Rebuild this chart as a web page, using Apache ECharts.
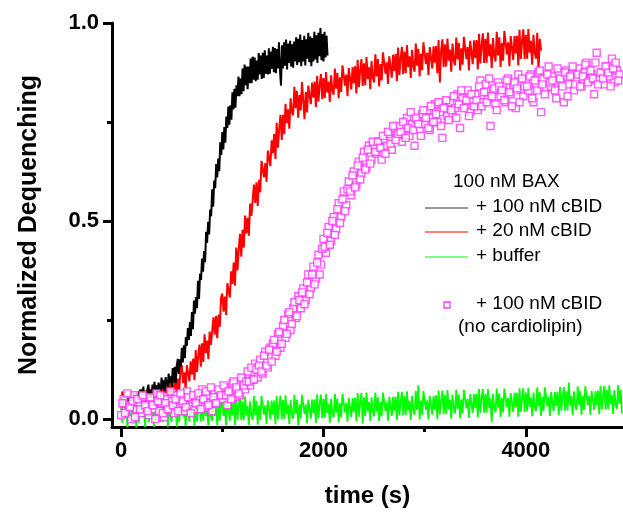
<!DOCTYPE html>
<html>
<head>
<meta charset="utf-8">
<script src="https://cdn.jsdelivr.net/npm/echarts@6/dist/echarts.min.js"></script>
<style>
html,body{margin:0;padding:0;background:#fff;}
#chart{width:623px;height:513px;}
</style>
</head>
<body>
<div id="chart"></div>
<script>
// ---- data ----
const xTicksMajor = [0, 2000, 4000];
const xTicksMinor = [1000, 3000];
const yTicksMajor = [0, 0.5, 1.0];
const yTicksMinor = [0.25, 0.75];

// black: 100 nM BAX + 100 nM cBID, sampled every 10 s from 0 s
const blackStart = 0, blackStep = 10;
const blackValues = [
  0.04,0.017,0.053,0.03,0.041,0.018,0.054,0.041,0.032,0.064,
  0.03,0.052,0.043,0.064,0.03,0.062,0.053,0.045,0.071,0.043,
  0.075,0.051,0.082,0.048,0.069,0.045,0.076,0.087,0.058,0.074,
  0.055,0.087,0.068,0.094,0.056,0.085,0.066,0.092,0.078,0.068,
  0.105,0.077,0.098,0.07,0.106,0.092,0.079,0.115,0.091,0.108,
  0.08,0.129,0.093,0.132,0.091,0.135,0.152,0.114,0.151,0.133,
  0.18,0.143,0.186,0.154,0.207,0.185,0.23,0.2,0.245,0.21,
  0.27,0.227,0.299,0.266,0.308,0.28,0.349,0.303,0.367,0.351,
  0.405,0.372,0.424,0.396,0.473,0.445,0.498,0.466,0.529,0.512,
  0.58,0.536,0.602,0.583,0.644,0.61,0.658,0.626,0.699,0.667,
  0.725,0.681,0.737,0.698,0.764,0.735,0.789,0.743,0.792,0.756,
  0.825,0.782,0.834,0.786,0.843,0.815,0.865,0.815,0.86,0.82,
  0.885,0.828,0.895,0.843,0.89,0.833,0.89,0.848,0.91,0.848,
  0.915,0.857,0.913,0.853,0.905,0.857,0.924,0.87,0.918,0.859,
  0.925,0.861,0.931,0.872,0.918,0.87,0.936,0.872,0.928,0.884,
  0.94,0.876,0.937,0.873,0.934,0.885,0.951,0.882,0.842,0.944,
  0.885,0.951,0.892,0.958,0.883,0.948,0.899,0.955,0.89,0.946,
  0.887,0.953,0.903,0.964,0.894,0.96,0.901,0.971,0.891,0.957,
  0.903,0.968,0.893,0.959,0.91,0.975,0.901,0.966,0.891,0.962,
  0.903,0.978,0.908,0.969,0.899,0.975,0.916,0.987,0.906,0.972,
  0.903,0.978,0.913,0.968,0.918
];

// red: + 20 nM cBID, sampled every 12.5 s from 0 s
const redStart = 0, redStep = 12.5;
const redValues = [
  0.044,0.07,0.054,0.028,0.043,0.017,0.054,0.035,
  0.031,0.067,0.041,0.063,0.029,0.058,0.039,0.075,
  0.076,0.049,0.064,0.037,0.073,0.06,0.047,0.076,
  0.056,0.078,0.044,0.087,0.052,0.073,0.089,0.055,
  0.084,0.057,0.093,0.066,0.081,0.055,0.091,0.071,
  0.06,0.112,0.075,0.107,0.06,0.102,0.075,0.127,
  0.136,0.091,0.118,0.073,0.136,0.115,0.095,0.146,
  0.113,0.153,0.098,0.174,0.119,0.159,0.188,0.132,
  0.191,0.144,0.214,0.167,0.198,0.151,0.221,0.187,
  0.184,0.257,0.213,0.26,0.204,0.264,0.233,0.306,
  0.317,0.271,0.309,0.263,0.343,0.325,0.307,0.373,
  0.341,0.395,0.337,0.433,0.375,0.429,0.468,0.41,
  0.478,0.433,0.514,0.469,0.508,0.463,0.544,0.513,
  0.512,0.592,0.546,0.598,0.538,0.604,0.572,0.652,
  0.657,0.61,0.646,0.599,0.678,0.658,0.639,0.704,
  0.671,0.72,0.657,0.748,0.685,0.733,0.768,0.705,
  0.768,0.719,0.796,0.747,0.782,0.733,0.81,0.775,
  0.767,0.839,0.785,0.829,0.761,0.819,0.779,0.851,
  0.849,0.757,0.826,0.774,0.842,0.818,0.795,0.849,
  0.812,0.852,0.788,0.866,0.802,0.843,0.871,0.808,
  0.861,0.81,0.876,0.825,0.852,0.801,0.868,0.83,
  0.819,0.885,0.834,0.874,0.81,0.863,0.826,0.893,
  0.897,0.842,0.87,0.815,0.886,0.859,0.832,0.889,
  0.848,0.891,0.822,0.907,0.838,0.88,0.909,0.841,
  0.898,0.843,0.914,0.859,0.888,0.833,0.904,0.863,
  0.85,0.921,0.865,0.909,0.84,0.896,0.855,0.926,
  0.927,0.872,0.901,0.846,0.916,0.889,0.862,0.92,
  0.879,0.922,0.853,0.938,0.868,0.91,0.94,0.871,
  0.928,0.873,0.944,0.889,0.916,0.861,0.932,0.891,
  0.877,0.948,0.892,0.935,0.865,0.922,0.881,0.951,
  0.952,0.896,0.925,0.868,0.939,0.912,0.885,0.941,
  0.9,0.942,0.873,0.957,0.85,0.93,0.959,0.889,
  0.946,0.89,0.961,0.905,0.933,0.877,0.948,0.906,
  0.893,0.963,0.908,0.95,0.88,0.936,0.895,0.965,
  0.969,0.909,0.94,0.88,0.955,0.925,0.896,0.956,
  0.912,0.957,0.883,0.973,0.898,0.943,0.974,0.899,
  0.96,0.9,0.976,0.916,0.946,0.886,0.962,0.917,
  0.903,0.978,0.918,0.964,0.889,0.95,0.905,0.98,
  0.981,0.921,0.951,0.891,0.967,0.937,0.907,0.967,
  0.923,0.968,0.893,0.983,0.909,0.954,0.984,0.909,
  0.97,0.91,0.985,0.925,0.955,0.895,0.97,0.925,
  0.91,0.975,0.88,0.96,0.93
];

// green: + buffer, sampled every 12.5 s from 0 s
const greenStart = 0, greenStep = 12.5;
const greenValues = [
  0.039,-0.009,0.051,0.003,0.027,-0.021,0.039,0.003,
  -0.009,0.051,0.003,0.039,-0.021,0.027,-0.009,0.051,
  0.052,0.004,0.028,-0.02,0.04,0.016,-0.008,0.04,
  0.004,0.04,-0.02,0.052,-0.008,0.028,0.052,-0.008,
  0.041,-0.007,0.053,0.005,0.029,-0.019,0.041,0.005,
  -0.007,0.053,0.005,0.041,-0.019,0.029,-0.007,0.053,
  0.054,0.006,0.03,-0.018,0.042,0.018,-0.006,0.042,
  0.006,0.042,-0.018,0.054,-0.006,0.03,0.054,-0.006,
  0.043,-0.005,0.055,0.007,0.031,-0.017,0.043,0.007,
  -0.004,0.056,0.008,0.044,-0.016,0.032,-0.004,0.056,
  0.056,0.008,0.032,-0.016,0.044,0.02,-0.004,0.044,
  0.009,0.045,-0.015,0.057,-0.003,0.033,0.057,-0.003,
  0.045,-0.003,0.057,0.009,0.033,-0.015,0.045,0.009,
  -0.002,0.058,0.01,0.046,-0.014,0.034,-0.002,0.058,
  0.059,0.011,0.035,-0.013,0.047,0.023,-0.001,0.047,
  0.011,0.047,-0.013,0.059,-0.001,0.035,0.059,-0.001,
  0.048,0,0.06,0.012,0.036,-0.012,0.048,0.012,
  0.001,0.061,0.013,0.049,-0.016,0.037,0.001,0.061,
  0.061,0.013,0.037,-0.011,0.049,0.025,0.001,0.049,
  0.014,0.05,-0.01,0.062,0.002,0.038,0.062,0.002,
  0.051,0.003,0.063,0.015,0.039,-0.009,0.051,0.015,
  0.004,0.064,0.016,0.052,-0.008,0.04,0.004,0.064,
  0.065,0.017,0.041,-0.007,0.053,0.029,0.005,0.053,
  0.018,0.054,-0.006,0.066,0.006,0.042,0.066,-0.012,
  0.055,0.007,0.067,0.019,0.043,-0.005,0.055,0.019,
  0.007,0.067,0.019,0.055,-0.005,0.043,0.007,0.067,
  0.068,0.02,0.044,-0.004,0.056,0.032,0.008,0.056,
  0.021,0.057,-0.003,0.069,0.009,0.045,0.069,0.009,
  0.058,0.01,0.07,0.022,0.046,-0.002,0.058,0.022,
  0.011,0.071,0.023,0.085,-0.001,0.047,0.011,0.071,
  0.071,0.023,0.047,-0.001,0.059,0.035,0.011,0.059,
  0.024,0.06,0,0.072,0.012,0.048,0.072,0.012,
  0.061,0.013,0.073,0.025,0.049,0.001,0.061,0.025,
  0.014,0.074,0.026,0.062,0.002,0.05,0.014,0.074,
  0.075,0.027,0.051,0.003,0.063,0.039,0.015,0.063,
  0.028,0.064,0.004,0.076,0.016,0.052,0.076,0.016,
  0.064,0.016,0.076,0.028,0.052,-0.008,0.064,0.028,
  0.017,0.077,0.029,0.065,0.005,0.053,0.017,0.077,
  0.078,0.03,0.054,0.006,0.066,0.042,0.018,0.066,
  0.03,0.066,0.006,0.078,0.018,0.054,0.078,0.018,
  0.067,0.019,0.079,0.031,0.055,0.007,0.067,0.031,
  0.02,0.08,0.032,0.068,0.008,0.056,0.02,0.08,
  0.08,0.032,0.056,0.008,0.068,0.044,0.02,0.068,
  0.033,0.069,0.009,0.081,0.021,0.057,0.081,0.021,
  0.07,0.022,0.092,0.034,0.058,0.01,0.07,0.034,
  0.023,0.083,0.035,0.071,0.011,0.059,0.023,0.083,
  0.083,0.035,0.059,0.011,0.071,0.047,0.023,0.071,
  0.036,0.072,0.012,0.084,0.024,0.06,0.084,0.024,
  0.073,0.025,0.085,0.037,0.061,0.013,0.073,0.037,
  0.026,0.086,0.038,0.074,0.014
];

// magenta squares: + 100 nM cBID (no cardiolipin)
// set A every 25 s from 0 s, set B every 25 s from 12.5 s
const magStartA = 0, magStepA = 25;
const magValuesA = [
  0.01,0.05,0.02,0.035,0.0,0.06,0.025,0.04,0.015,0.055,
  0.03,0.01,0.045,0.025,0.065,0.02,0.04,0.005,0.05,0.03,
  0.045,0.015,0.06,0.03,0.04,0.02,0.07,0.035,0.05,0.025,
  0.055,0.035,0.075,0.03,0.06,0.04,0.02,0.065,0.045,0.07,
  0.05,0.08,0.035,0.065,0.09,0.055,0.075,0.06,0.1,0.075,
  0.12,0.085,0.1,0.14,0.105,0.15,0.115,0.17,0.13,0.18,
  0.19,0.16,0.215,0.18,0.235,0.205,0.265,0.225,0.28,0.255,
  0.31,0.28,0.33,0.3,0.365,0.33,0.385,0.355,0.415,0.39,
  0.455,0.42,0.485,0.45,0.51,0.48,0.545,0.51,0.575,0.54,
  0.6,0.565,0.625,0.59,0.65,0.62,0.675,0.635,0.69,0.655,
  0.69,0.67,0.7,0.655,0.705,0.69,0.72,0.68,0.735,0.71,
  0.74,0.7,0.725,0.76,0.715,0.745,0.69,0.755,0.73,0.77,
  0.745,0.78,0.73,0.76,0.795,0.75,0.775,0.71,0.79,0.765,
  0.8,0.77,0.785,0.82,0.735,0.81,0.79,0.83,0.775,0.805,
  0.82,0.78,0.855,0.8,0.845,0.81,0.74,0.83,0.795,0.85,
  0.815,0.84,0.8,0.86,0.82,0.845,0.785,0.87,0.83,0.815,
  0.855,0.83,0.87,0.8,0.845,0.875,0.775,0.86,0.835,0.89,
  0.84,0.865,0.81,0.875,0.85,0.8,0.88,0.845,0.87,0.83,
  0.86,0.885,0.84,0.875,0.9,0.855,0.87,0.82,0.925,0.86,
  0.875,0.845,0.89,0.865,0.91,0.85,0.88,0.87
];
const magStartB = 12.5, magStepB = 25;
const magValuesB = [
  0.04,0.015,0.065,0.03,0.045,0.005,0.05,0.025,0.06,0.035,
  0.02,0.055,0.035,0.0,0.045,0.06,0.015,0.04,0.025,0.07,
  0.035,0.05,0.02,0.065,0.045,0.03,0.055,0.015,0.06,0.04,
  0.065,0.025,0.05,0.07,0.035,0.08,0.055,0.04,0.075,0.06,
  0.085,0.06,0.07,0.05,0.095,0.08,0.065,0.105,0.085,0.095,
  0.095,0.13,0.1,0.125,0.135,0.12,0.16,0.135,0.175,0.145,
  0.2,0.17,0.22,0.19,0.25,0.215,0.27,0.24,0.295,0.26,
  0.3,0.32,0.29,0.345,0.315,0.365,0.34,0.395,0.365,0.43,
  0.435,0.47,0.44,0.5,0.465,0.53,0.495,0.555,0.525,0.58,
  0.575,0.615,0.585,0.64,0.605,0.66,0.63,0.68,0.645,0.7,
  0.675,0.7,0.685,0.715,0.67,0.725,0.695,0.74,0.705,0.72,
  0.725,0.75,0.71,0.735,0.775,0.73,0.76,0.745,0.715,0.78,
  0.76,0.735,0.79,0.75,0.77,0.8,0.74,0.785,0.805,0.755,
  0.78,0.815,0.76,0.795,0.83,0.785,0.805,0.765,0.82,0.79,
  0.805,0.84,0.79,0.825,0.8,0.86,0.815,0.835,0.78,0.84,
  0.83,0.805,0.855,0.825,0.79,0.85,0.835,0.8,0.86,0.84,
  0.84,0.865,0.81,0.855,0.83,0.88,0.845,0.82,0.87,0.85,
  0.855,0.83,0.885,0.86,0.84,0.875,0.815,0.865,0.89,0.845,
  0.87,0.84,0.865,0.895,0.85,0.88,0.86,0.9,0.845,0.875,
  0.86,0.89,0.875,0.84,0.885,0.9,0.855
];

function toPairs(start, step, vals){
  return vals.map((v,i)=>[start + i*step, v]);
}

const FONT = "'Liberation Sans', Arial, sans-serif";
const chart = echarts.init(document.getElementById('chart'), null, {renderer:'canvas'});

const axisLineStyle = {color:'#000', width:3};
const magData = toPairs(magStartA, magStepA, magValuesA)
  .concat(toPairs(magStartB, magStepB, magValuesB));

const option = {
  animation:false,
  backgroundColor:'#fff',
  grid:{left:112, right:0, top:23, bottom:83, containLabel:false},
  xAxis:[
    {type:'value', min:-90, max:4960, position:'bottom',
     name:'time (s)', nameLocation:'middle', nameGap:57,
     nameTextStyle:{fontFamily:FONT, fontSize:24, fontWeight:'bold', color:'#000'},
     axisLine:{show:true, onZero:false, lineStyle:axisLineStyle},
     axisTick:{show:true, length:10, customValues:xTicksMajor, lineStyle:{color:'#000', width:3}},
     axisLabel:{show:true, customValues:xTicksMajor, margin:13, formatter:(v)=>String(v),
       fontFamily:FONT, fontSize:22, fontWeight:'bold', color:'#000'},
     splitLine:{show:false}},
    {type:'value', min:-90, max:4960, position:'bottom',
     axisLine:{show:false, onZero:false},
     axisTick:{show:true, length:5, customValues:xTicksMinor, lineStyle:{color:'#000', width:3}},
     axisLabel:{show:false}, splitLine:{show:false}}
  ],
  yAxis:[
    {type:'value', min:-0.02, max:1.0, position:'left',
     name:'Normalized Dequenching', nameLocation:'middle', nameGap:70, nameRotate:90,
     nameTextStyle:{fontFamily:FONT, fontSize:25, fontWeight:'bold', color:'#000'},
     axisLine:{show:true, onZero:false, lineStyle:axisLineStyle},
     axisTick:{show:true, length:9, customValues:yTicksMajor, lineStyle:{color:'#000', width:3}},
     axisLabel:{show:true, customValues:yTicksMajor, margin:13, formatter:(v)=>v.toFixed(1),
       fontFamily:FONT, fontSize:22, fontWeight:'bold', color:'#000'},
     splitLine:{show:false}},
    {type:'value', min:-0.02, max:1.0, position:'left',
     axisLine:{show:false, onZero:false},
     axisTick:{show:true, length:5, customValues:yTicksMinor, lineStyle:{color:'#000', width:3}},
     axisLabel:{show:false}, splitLine:{show:false}}
  ],
  series:[
    {name:'+ 20 nM cBID', type:'line', data:toPairs(redStart, redStep, redValues),
     showSymbol:false, sampling:'none', lineStyle:{color:'#ff0000', width:2}, z:2},
    {name:'+ 100 nM cBID', type:'line', data:toPairs(blackStart, blackStep, blackValues),
     showSymbol:false, sampling:'none', lineStyle:{color:'#000', width:2}, z:3},
    {name:'+ buffer', type:'line', data:toPairs(greenStart, greenStep, greenValues),
     showSymbol:false, sampling:'none', lineStyle:{color:'#00ff00', width:1.8}, z:4},
    {name:'+ 100 nM cBID (no cardiolipin)', type:'scatter', data:magData,
     symbol:'rect', symbolSize:7,
     itemStyle:{color:'#fff', borderColor:'#ff33ff', borderWidth:1.4}, z:5}
  ],
  graphic:[
    {type:'text', left:453, top:172, style:{text:'100 nM BAX', font:'19px '+FONT, fill:'#000'}},
    {type:'line', shape:{x1:425,y1:208,x2:468,y2:208}, style:{stroke:'#333', lineWidth:1}},
    {type:'line', shape:{x1:425,y1:232,x2:468,y2:232}, style:{stroke:'#ff0000', lineWidth:1}},
    {type:'line', shape:{x1:425,y1:257,x2:468,y2:257}, style:{stroke:'#00ff00', lineWidth:1}},
    {type:'text', left:476, top:197, style:{text:'+ 100 nM cBID', font:'19px '+FONT, fill:'#000'}},
    {type:'text', left:476, top:221, style:{text:'+ 20 nM cBID', font:'19px '+FONT, fill:'#000'}},
    {type:'text', left:476, top:246, style:{text:'+ buffer', font:'19px '+FONT, fill:'#000'}},
    {type:'rect', shape:{x:444,y:302,width:6,height:6}, style:{fill:'#fff', stroke:'#ff33ff', lineWidth:1.3}},
    {type:'text', left:476, top:294, style:{text:'+ 100 nM cBID', font:'19px '+FONT, fill:'#000'}},
    {type:'text', left:458, top:317, style:{text:'(no cardiolipin)', font:'19px '+FONT, fill:'#000'}}
  ]
};
chart.setOption(option);
</script>
</body>
</html>
